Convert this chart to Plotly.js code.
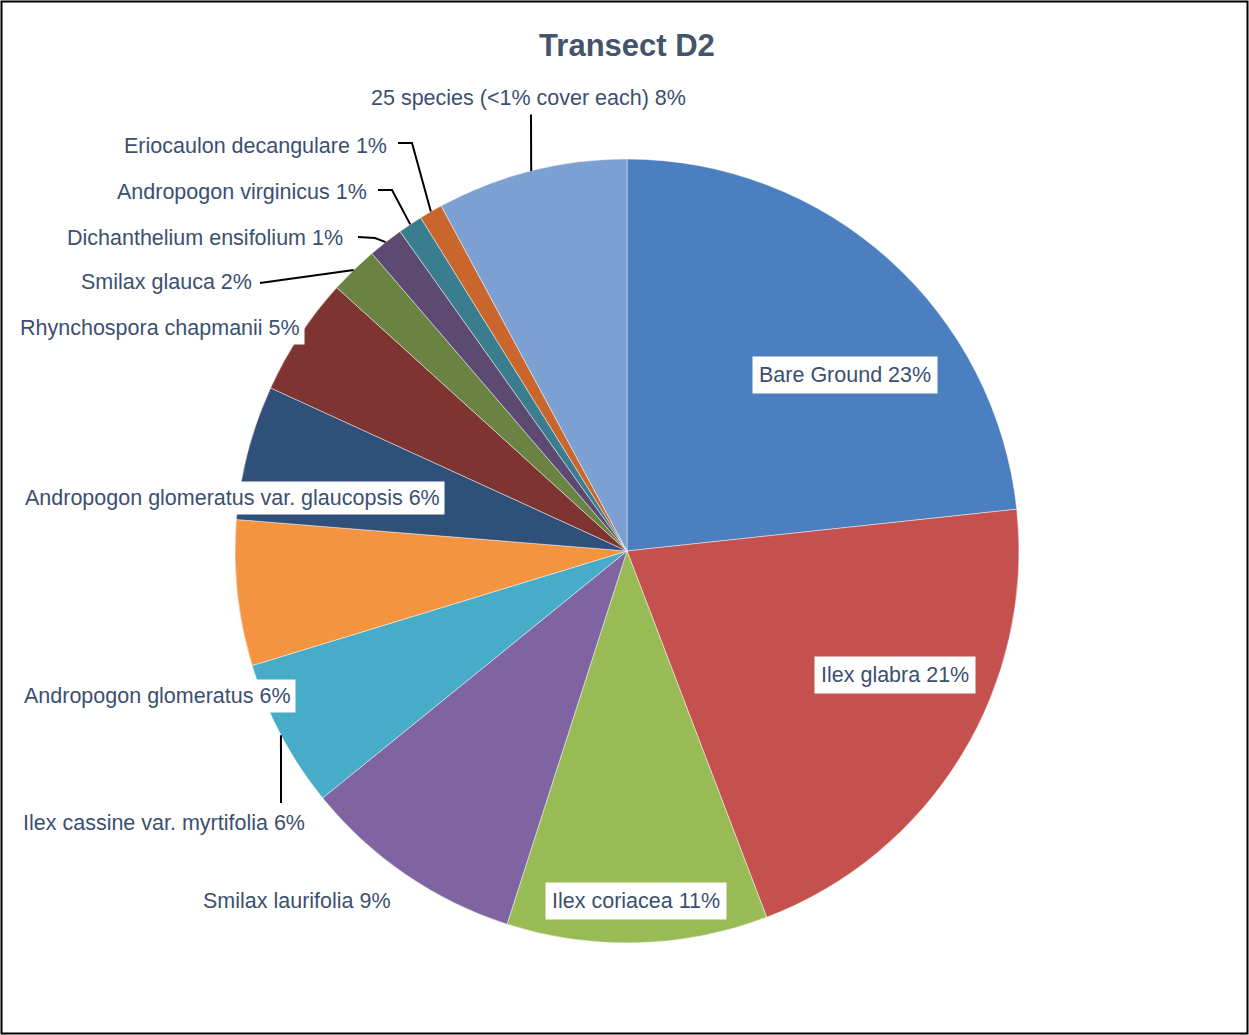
<!DOCTYPE html>
<html>
<head>
<meta charset="utf-8">
<script src="https://cdn.plot.ly/plotly-3.0.1.min.js"></script>
<style>html,body{margin:0;padding:0;background:#fff;}#chart{width:1249px;height:1035px;}</style>
</head>
<body>
<div id="chart"></div>
<script>
// ---- data ----
const species = [
  "Bare Ground", "Ilex glabra", "Ilex coriacea", "Smilax laurifolia",
  "Ilex cassine var. myrtifolia", "Andropogon glomeratus",
  "Andropogon glomeratus var. glaucopsis", "Rhynchospora chapmanii",
  "Smilax glauca", "Dichanthelium ensifolium", "Andropogon virginicus",
  "Eriocaulon decangulare", "25 species (<1% cover each)"
];
const cover = [23.3, 20.9, 10.75, 9.2, 6.13, 6.0, 5.55, 4.9, 1.99, 1.45, 1.01, 0.96, 7.86];
const sliceColors = [
  "#4c7fbf", "#c4514e", "#98bb55", "#8064a2", "#46acc8", "#f49440",
  "#2f5079", "#7e3431", "#6a8242", "#5c4a73", "#3a7d8f", "#c8662e", "#7ba0d1"
];
const chartTitle = "Transect D2";

// ---- layout geometry (pixels) ----
const W = 1249, H = 1035;
const cx = 627, cy = 551, R = 392;
const px = x => x / W;
const py = y => 1 - y / H;

// label centres (pixels)
const labelPos = [
  [845, 375], [895, 675], [636, 901], [297, 901], [164, 823], [157, 696],
  [232, 498], [160, 328], [167, 282], [205, 238], [242, 192], [256, 146], [528, 98]
];
// leader start / elbow points (pixels), keyed by slice index
const leaders = {
  12: [[531, 114]],
  11: [[398, 143], [412, 143]],
  10: [[378, 190], [392, 190]],
  9:  [[358, 237], [375, 238]],
  8:  [[260, 283]],
  4:  [[281, 803]]
};

const total = cover.reduce((a, b) => a + b, 0);
function midPoint(i) {
  let before = 0;
  for (let k = 0; k < i; k++) before += cover[k];
  const ang = (before + cover[i] / 2) / total * 2 * Math.PI; // clockwise from 12 o'clock
  return [cx + R * Math.sin(ang), cy - R * Math.cos(ang)];
}

const labelColor = "#3b5070";
const annotations = species.map((s, i) => ({
  text: s + " " + Math.round(cover[i]) + "%",
  x: px(labelPos[i][0]), y: py(labelPos[i][1]),
  xref: "paper", yref: "paper", xanchor: "center", yanchor: "middle",
  showarrow: false, bgcolor: "#ffffff", borderpad: (i <= 2 ? 6 : 4),
  font: {family: "Liberation Sans, Arial, sans-serif", size: 21.5, color: labelColor}
}));

const shapes = [];
Object.keys(leaders).forEach(k => {
  const i = +k;
  const pts = leaders[i].concat([midPoint(i)]);
  const d = pts.map((p, j) => (j ? "L" : "M") + px(p[0]).toFixed(5) + "," + py(p[1]).toFixed(5)).join(" ");
  shapes.push({type: "path", xref: "paper", yref: "paper", path: d, line: {color: "#000", width: 2}});
});
shapes.push({type: "rect", xref: "paper", yref: "paper",
  x0: px(1.5), x1: px(1247.5), y0: py(1033.5), y1: py(1.5), line: {color: "#000", width: 2}});

const trace = {
  type: "pie",
  labels: species,
  values: cover,
  sort: false,
  direction: "clockwise",
  rotation: 0,
  textinfo: "none",
  hoverinfo: "label+percent",
  marker: {colors: sliceColors, line: {color: "rgba(255,255,255,0.45)", width: 1}},
  domain: {x: [px(cx - R), px(cx + R)], y: [py(cy + R), py(cy - R)]},
  showlegend: false
};

const layout = {
  width: W, height: H,
  margin: {l: 0, r: 0, t: 0, b: 0},
  paper_bgcolor: "#ffffff",
  showlegend: false,
  title: {text: "<b>" + chartTitle + "</b>", x: px(627), xanchor: "center", y: py(45), yanchor: "middle",
    font: {family: "Liberation Sans, Arial, sans-serif", size: 31, color: "#44546a"}},
  annotations: annotations,
  shapes: shapes
};

Plotly.newPlot("chart", [trace], layout, {displayModeBar: false, staticPlot: true});
</script>
</body>
</html>
